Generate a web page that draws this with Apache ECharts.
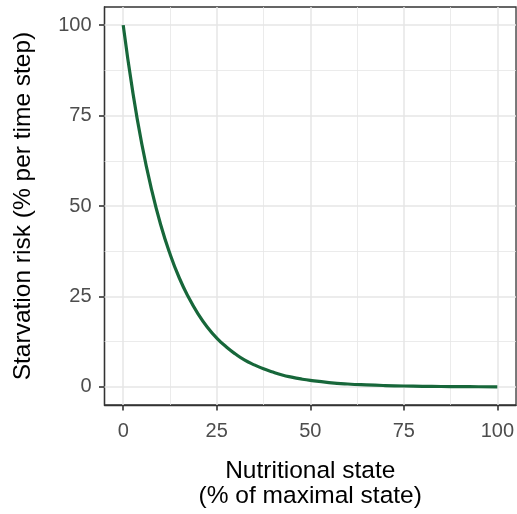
<!DOCTYPE html>
<html>
<head>
<meta charset="utf-8">
<script src="https://cdn.jsdelivr.net/npm/echarts@6/dist/echarts.min.js"></script>
<style>
html,body{margin:0;padding:0;background:#fff;}
#chart{width:517px;height:514px;}
</style>
</head>
<body>
<div id="chart"></div>
<script>
// Nutritional state (% of maximal state)
const stateValues = [0, 2.5, 5, 7.5, 10, 12.5, 15, 17.5, 20, 22.5, 25, 27.5, 30, 32.5, 35, 37.5, 40, 42.5, 45, 47.5, 50, 55, 60, 65, 70, 75, 80, 85, 90, 95, 100];
// Starvation risk (% per time step)
const riskValues = [100, 81.9, 67.0, 54.9, 44.9, 36.8, 30.1, 24.7, 20.2, 16.5, 13.5, 11.1, 9.1, 7.4, 6.1, 5.0, 4.1, 3.3, 2.7, 2.2, 1.8, 1.2, 0.8, 0.55, 0.37, 0.25, 0.17, 0.11, 0.07, 0.05, 0.03];
const tickValues = [0, 25, 50, 75, 100];
const minorValues = [12.5, 37.5, 62.5, 87.5];

const font = '"Liberation Sans", Arial, Helvetica, sans-serif';
const chart = echarts.init(document.getElementById('chart'), null, {renderer: 'canvas'});

const gridLines = [];
minorValues.forEach(v => {
  gridLines.push({xAxis: v, lineStyle: {width: 0.8}});
  gridLines.push({yAxis: v, lineStyle: {width: 0.8}});
});
tickValues.forEach(v => {
  gridLines.push({xAxis: v, lineStyle: {width: 1.5}});
  gridLines.push({yAxis: v, lineStyle: {width: 1.5}});
});

const axisCommon = {
  type: 'value',
  min: -5,
  max: 105,
  axisLine: {show: true, onZero: false, lineStyle: {color: '#333333', width: 1.3}},
  splitLine: {show: false},
  axisTick: {show: true, inside: false, customValues: tickValues, length: 5.5, lineStyle: {color: '#333333', width: 1.6}},
  axisLabel: {customValues: tickValues, color: '#4D4D4D', fontSize: 20, fontFamily: font},
  nameLocation: 'middle',
  nameTextStyle: {color: '#000000', fontSize: 24.5, fontFamily: font}
};

chart.setOption({
  animation: false,
  backgroundColor: '#ffffff',
  grid: {left: 104.5, right: 0.5, top: 7, bottom: 104, show: true, borderColor: '#333333', borderWidth: 1.3, containLabel: false},
  xAxis: Object.assign({}, axisCommon, {
    name: 'Nutritional state\n(% of maximal state)',
    nameGap: 54,
    axisLabel: Object.assign({}, axisCommon.axisLabel, {margin: 16}),
    nameTextStyle: Object.assign({}, axisCommon.nameTextStyle, {lineHeight: 25})
  }),
  yAxis: Object.assign({}, axisCommon, {
    name: 'Starvation risk (% per time step)',
    nameGap: 69,
    axisLabel: Object.assign({}, axisCommon.axisLabel, {margin: 13})
  }),
  series: [
    {
      type: 'line',
      data: [],
      z: 2,
      silent: true,
      markLine: {
        z: 2,
        silent: true,
        symbol: ['none', 'none'],
        label: {show: false},
        emphasis: {disabled: true},
        lineStyle: {color: '#E6E6E6', type: 'solid'},
        data: gridLines
      }
    },
    {
      type: 'line',
      z: 10,
      data: stateValues.map((x, i) => [x, riskValues[i]]),
      smooth: true,
      showSymbol: false,
      lineStyle: {color: '#17673A', width: 3.2}
    }
  ]
});
</script>
</body>
</html>
